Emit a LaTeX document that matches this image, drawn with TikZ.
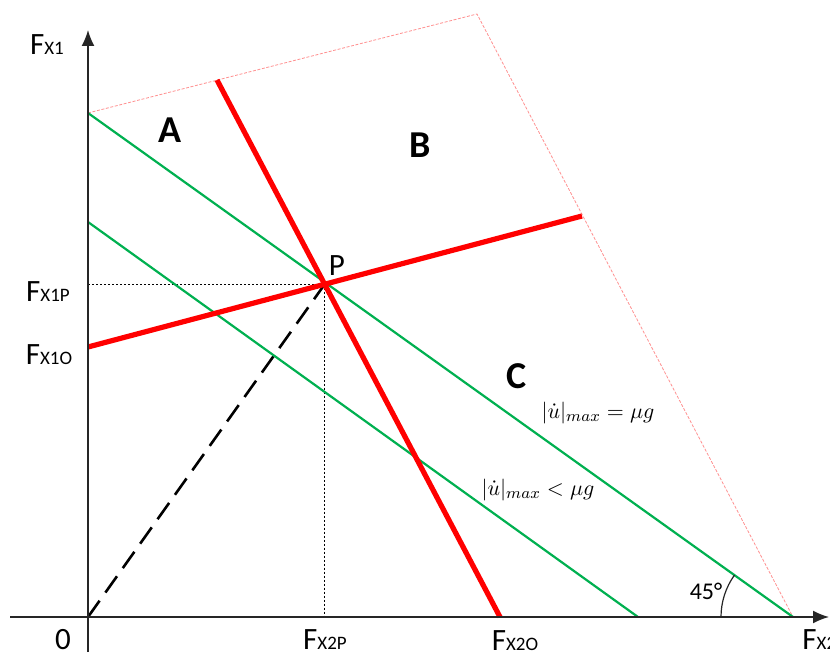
\documentclass[tikz,border=0pt]{standalone}
\usepackage{fontspec}
\setmainfont{Carlito}
\usetikzlibrary{arrows.meta,calc}
\definecolor{fred}{HTML}{FF0000}
\definecolor{fgreen}{HTML}{00B050}
\definecolor{fpink}{HTML}{FF9090}
\newcommand{\Fsub}[1]{F{\fontsize{9.5}{10}\selectfont X#1}}

\begin{document}
\begin{tikzpicture}[x=0.5pt, y=-0.5pt,
      axis/.style={draw=black!85, line width=0.8pt, -{Latex[length=8pt,width=6.5pt]}},
      redline/.style={draw=fred, line width=2.6pt},
      greenline/.style={draw=fgreen, line width=1.1pt},
      bound/.style={draw=fpink, line width=0.4pt, dash pattern=on 1.5pt off 0.8pt},
      guide/.style={draw=black, line width=0.4pt, dash pattern=on 1.2pt off 0.8pt},
      ray/.style={draw=black, line width=1.3pt, dash pattern=on 10pt off 5pt},
      flabel/.style={font=\fontsize{15.5}{18}\selectfont, inner sep=1pt},
      region/.style={font=\fontsize{19}{22}\selectfont\bfseries},
      mlabel/.style={font=\fontsize{11}{13}\selectfont}]
    \useasboundingbox (0,0) rectangle (830,657);
    \coordinate (O) at (88,617);
    \coordinate (Xs) at (10,617);
    \coordinate (Xe) at (829,617);
    \coordinate (Ys) at (88,652);
    \coordinate (Ye) at (88,30);
    \coordinate (G1a) at (88,113);
    \coordinate (G1b) at (793,617);
    \coordinate (G2a) at (88,222);
    \coordinate (G2b) at (638,617);
    \coordinate (R1a) at (217,80);
    \coordinate (R1b) at (500,617);
    \coordinate (R2a) at (88,347);
    \coordinate (R2b) at (582,216);
    \coordinate (Q) at (477,14);
    \coordinate (P) at (intersection of R1a--R1b and R2a--R2b);

    \draw[bound] (G1a) -- (Q) -- (G1b);
    \draw[guide] (O |- P) -- (P) -- (P |- O);
    \draw[ray] (O) -- (P);
    \draw[greenline] (G1a) -- (G1b);
    \draw[greenline] (G2a) -- (G2b);
    \draw[redline] (R1a) -- (R1b);
    \draw[redline] (R2a) -- (R2b);
    \draw[axis] (Xs) -- (Xe);
    \draw[axis] (Ys) -- (Ye);
    \draw[black!85, line width=0.6pt] ($(G1b)+(-72,0)$) arc[start angle=180, end angle=215.6, radius=72];

    \node[flabel] (fx1) at (47,45) {\Fsub{1}};
    \node[flabel] (fx1p) at (48,292) {\Fsub{1P}};
    \node[flabel] (fx1o) at (49,355) {\Fsub{1O}};
    \node[flabel] (zero) at (63,640) {0};
    \node[flabel] (fx2p) at (325,640) {\Fsub{2P}};
    \node[flabel] (fx2o) at (515,641) {\Fsub{2O}};
    \node[flabel, anchor=west] (fx2) at (800,640) {\Fsub{2}};
    \node[flabel] (plabel) at (337,266) {P};
    \node[region] (ra) at (170,130) {A};
    \node[region] (rb) at (420,145) {B};
    \node[region] (rc) at (517,376) {C};
    \node[mlabel] (eqmax) at (598,413) {$|\dot{u}|_{max} = \mu g$};
    \node[mlabel] (ltmax) at (538,490) {$|\dot{u}|_{max} < \mu g$};
    \node[font=\fontsize{12}{14}\selectfont] (ang) at (706,591) {45°};
  \end{tikzpicture}
\end{document}
